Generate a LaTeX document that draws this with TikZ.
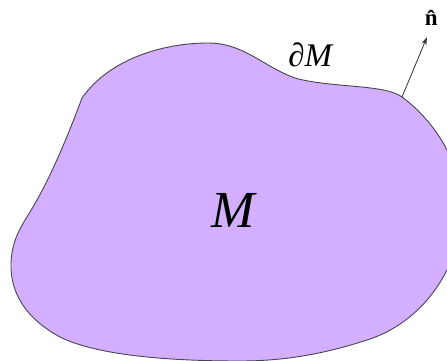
\documentclass[tikz,border=0pt]{standalone}
\usepackage{fontspec}
\setmainfont{Liberation Serif}
\usetikzlibrary{arrows.meta}
\definecolor{regionfill}{RGB}{212,174,255}
\definecolor{edgecol}{RGB}{70,70,80}
\tikzset{
  region/.style={fill=regionfill, draw=edgecol, line width=0.9pt},
  normalarrow/.style={draw=black!80, line width=0.8pt, -{Stealth[length=8pt,width=5pt]}},
  lbl/.style={inner sep=0pt}
}
\begin{document}
\begin{tikzpicture}[x=1pt,y=-1pt]
\useasboundingbox (0,0) rectangle (447,360);
\begin{scope}
\clip (0,0) rectangle (447,360);
\path[region] (82,98)
  .. controls (110,58) and (165,43) .. (208,43)
  .. controls (244,43) and (262,66) .. (295,78)
  .. controls (330,88) and (385,84) .. (402,97)
  .. controls (420,110) and (437,130) .. (447,150)
  .. controls (468,190) and (465,240) .. (447,270)
  .. controls (432,300) and (405,328) .. (367,340)
  .. controls (330,352) and (290,361) .. (240,361)
  .. controls (180,361) and (100,357) .. (60,337)
  .. controls (25,318) and (10,292) .. (11,263)
  .. controls (12,235) and (25,222) .. (37,200)
  .. controls (55,168) and (72,125) .. cycle;
\end{scope}
\coordinate (base) at (402,97);
\node[lbl] (nhat) at (433,18) {\fontsize{23}{25}\selectfont\textbf{\^{n}}};
\coordinate (tip) at (427,37);
\draw[normalarrow] (base) -- (tip);
\node[lbl] (bdry) at (311,55) {\fontsize{33}{36}\selectfont\textit{∂M}};
\node[lbl] (interior) at (234,210) {\fontsize{52}{56}\selectfont\textit{M}};
\end{tikzpicture}
\end{document}
